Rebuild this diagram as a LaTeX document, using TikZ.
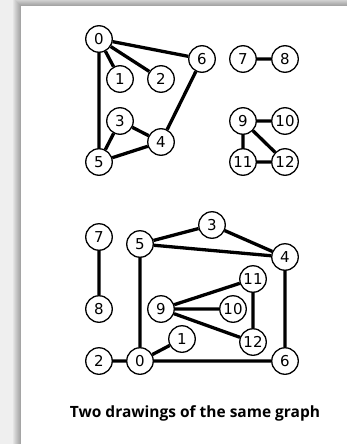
\documentclass[tikz,border=0pt]{standalone}
\usepackage{fontspec}
\setmainfont{DejaVu Sans}
\newfontfamily\capfont{Open Sans}
\definecolor{bggray}{HTML}{EFEFEF}
\begin{document}
\begin{tikzpicture}[x=1pt,y=-1pt,
  vtx/.style={circle,draw=black,fill=white,line width=1.3pt,minimum size=26.5pt,inner sep=0pt,font=\fontsize{15}{15}\selectfont},
  edg/.style={line width=3.3pt,black}]
\useasboundingbox (0,0) rectangle (347,444);
\fill[bggray] (0,0) rectangle (347,444);
\foreach \i in {8,7,...,1}{
  \fill[black,opacity=0.045] (21-\i,6-\i) rectangle (360,460);
}
\fill[white] (21,6) rectangle (360,460);
% top drawing
\node[vtx] (a0) at (99,39) {0};
\node[vtx] (a1) at (120,79) {1};
\node[vtx] (a2) at (161,79) {2};
\node[vtx] (a6) at (202,59) {6};
\node[vtx] (a7) at (243,59) {7};
\node[vtx] (a8) at (285,59) {8};
\node[vtx] (a3) at (120,121) {3};
\node[vtx] (a4) at (161,142) {4};
\node[vtx] (a5) at (99,162) {5};
\node[vtx] (a9) at (243,121) {9};
\node[vtx] (a10) at (285,121) {10};
\node[vtx] (a11) at (243,162) {11};
\node[vtx] (a12) at (285,162) {12};
\draw[edg] (a0)--(a1) (a0)--(a2) (a0)--(a6) (a0)--(a5) (a6)--(a4) (a3)--(a4) (a3)--(a5) (a5)--(a4)
  (a7)--(a8) (a9)--(a10) (a9)--(a11) (a9)--(a12) (a11)--(a12);
% bottom drawing
\node[vtx] (b7) at (99,237) {7};
\node[vtx] (b5) at (140,244) {5};
\node[vtx] (b3) at (212,225) {3};
\node[vtx] (b4) at (285,257) {4};
\node[vtx] (b11) at (253,279) {11};
\node[vtx] (b8) at (99,309) {8};
\node[vtx] (b9) at (161,309) {9};
\node[vtx] (b10) at (233,309) {10};
\node[vtx] (b12) at (253,342) {12};
\node[vtx] (b1) at (182,339) {1};
\node[vtx] (b2) at (99,361) {2};
\node[vtx] (b0) at (140,361) {0};
\node[vtx] (b6) at (285,361) {6};
\draw[edg] (b7)--(b8) (b5)--(b3) (b3)--(b4) (b5)--(b4) (b5)--(b0) (b4)--(b6)
  (b9)--(b11) (b9)--(b10) (b9)--(b12) (b11)--(b12) (b0)--(b1) (b2)--(b0) (b0)--(b6);
\node[font=\capfont\bfseries\fontsize{15.5}{15.5}\selectfont] (cap) at (195,413) {Two drawings of the same graph};
\end{tikzpicture}
\end{document}
